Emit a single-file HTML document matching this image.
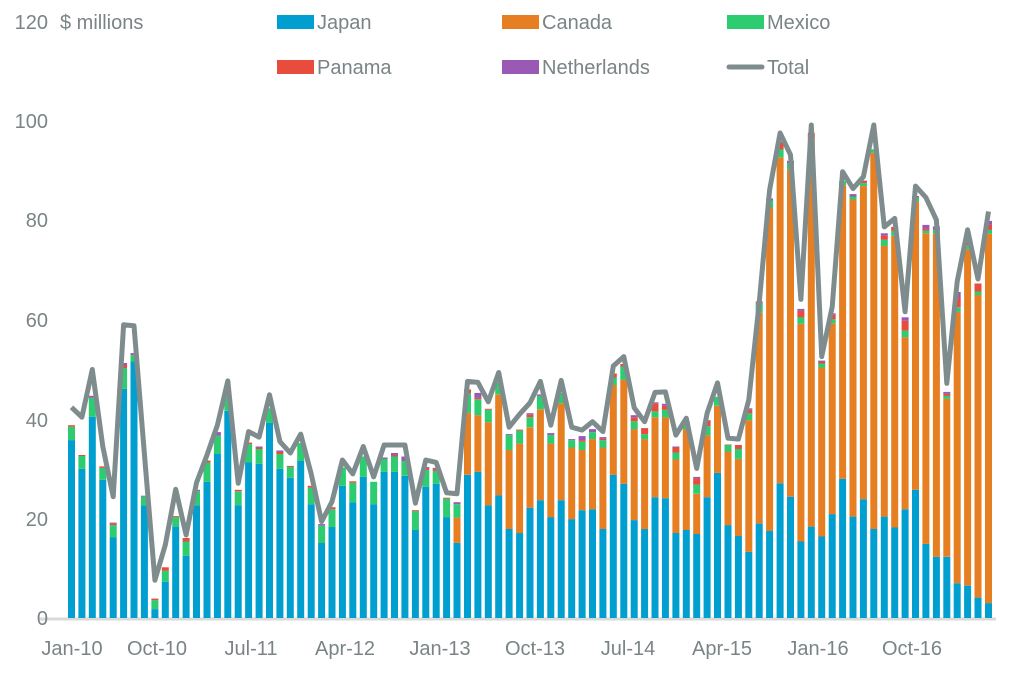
<!DOCTYPE html>
<html><head><meta charset="utf-8"><style>
html,body{margin:0;padding:0;background:#fff;}
svg text{font-family:"Liberation Sans Narrow","Liberation Sans",sans-serif;fill:#7a8486;font-size:20px;}
</style></head><body>
<svg id="c" width="1015" height="670" xmlns="http://www.w3.org/2000/svg"></svg>
<script>
const D=[
[35.8,35.8,38.5,38.8,38.8,42.4],[30,30,32.6,32.8,32.8,40.4],[40.5,40.5,44.3,44.3,44.7,50],[27.8,27.8,30.2,30.5,30.5,34.5],
[16.2,16.2,18.7,19,19.2,24.4],[46.1,46.1,50.3,50.9,51.3,59],[51.6,51.6,52.9,52.9,53.3,58.8],[22.7,22.7,24.4,24.4,24.6,33],
[1.8,1.8,3.6,3.9,3.9,7.6],[7.3,7.3,9.5,10.2,10.2,14.7],[18.4,18.4,20.3,20.5,20.5,25.9],[12.5,12.5,15.4,16.1,16.1,16.7],
[22.7,22.7,25.5,25.5,25.8,27.2],[27.4,27.4,31.3,31.7,31.7,32.8],[33,33,36.7,36.7,37.4,38.8],[41.7,41.7,44.5,44.5,44.5,47.7],
[22.7,22.7,25.5,25.8,25.8,27.1],[31.3,31.3,35,35.3,35.3,37.5],[31,31,34,34.3,34.5,36.4],[39.3,39.3,42.2,42.2,42.2,44.9],
[30,30,33,33.4,33.7,35.5],[28.2,28.2,30.4,30.6,30.6,33.2],[31.6,31.6,35.2,35.2,35.2,37],[22.9,22.9,26.2,26.6,26.6,29],
[15.1,15.1,18.6,18.6,18.9,19.4],[18.3,18.3,21.9,22.3,22.3,23.4],[26.6,26.6,30.3,30.3,30.3,31.8],[23.3,23.3,27.2,27.5,27.5,29],
[28.4,28.4,32.5,32.5,32.5,34.5],[22.9,22.9,27.4,27.4,27.4,28.4],[29.4,29.4,32,32,32.3,34.8],[29.4,29.4,32.5,32.8,33.2,34.8],
[28.6,28.6,31.6,31.6,32.5,34.8],[17.7,17.7,21.5,21.7,21.7,23.1],[26.4,26.4,29.8,30.2,30.4,31.8],[27,27,29.6,30,30.2,31.3],
[20.3,20.3,24,24.2,24.2,25.2],[15.1,20.2,22.9,22.9,23.3,25],[28.8,41.3,45.2,46,46,47.6],[29.4,40.8,44,44.3,45.3,47.4],
[22.7,39.4,41.9,42.1,42.1,43.5],[24.7,45,47.3,47.3,47.3,49.4],[17.9,33.8,36.8,36.8,37,38.4],[17.1,35.1,37.7,37.9,37.9,41],
[22.2,38.4,40.4,40.9,41.2,43.3],[23.7,42,44.7,44.7,45,47.6],[20.3,35.1,36.8,36.8,37.2,38.8],[23.7,43.2,45.3,45.3,45.3,47.8],
[19.9,34.3,35.8,35.8,36,38.4],[21.7,33.8,35.5,35.8,36.6,37.8],[21.9,36,37.4,37.4,38,39.5],[17.9,34.3,35.8,36.1,36.4,37.5],
[28.8,46.9,48.4,49.2,49.2,50.7],[27,47.9,50.6,51.1,51.1,52.6],[19.7,38,39.6,40.4,40.8,42.3],[17.9,36,37,38.2,38.2,39.5],
[24.3,40.4,41.6,43.2,43.4,45.4],[24.1,40.4,41.9,42.7,43.1,45.5],[17.1,31.9,33.3,34.3,34.5,36.8],[17.7,38,39.5,39.5,39.5,40.2],
[16.9,25,26.8,28.1,28.4,30.1],[24.3,36.8,38.6,39.8,39.8,41.2],[29.2,42.7,44.5,44.5,44.5,47.3],[18.7,33.5,34.8,34.9,34.9,36.2],
[16.5,32,34,34.8,34.8,36],[13.3,39.8,41.2,41.9,42.2,43.9],[19,61.4,63.3,63.5,63.7,63.4],[17.5,82.6,84,84,84.4,86.1],
[27.1,92.7,94.3,95.8,95.8,97.6],[24.4,90.3,91.5,91.5,92,93.2],[15.4,59.2,60.5,61.8,62.2,64.1],[18.4,96.5,96.5,97.6,97.6,99.2],
[16.4,50.4,51.2,51.5,51.8,52.6],[20.9,59.3,60.1,61,61.3,62.6],[28,87.1,87.9,87.9,87.9,89.8],[20.4,84.2,84.8,84.8,85.3,86.4],
[23.9,86.9,87.5,88,88,88.8],[17.9,93.6,94.3,94.3,94.3,99.2],[20.4,74.9,76.1,76.9,77.4,78.7],[18.2,76.9,77.9,78.7,78.7,80.4],
[21.9,56.5,57.8,59.8,60.5,61.6],[25.8,83.8,84.6,84.6,84.9,86.9],[14.9,77.4,77.9,78.3,79.1,84.6],[12.3,77.3,78.1,78.1,78.8,80.1],
[12.3,44.1,44.7,45.1,45.5,47.2],[7,61.6,62.5,64.5,65.6,67.7],[6.5,74.2,75,75.7,75.7,78.1],[4.1,65,65.7,67.3,67.3,68.2],
[3,77.3,78.1,79.1,79.9,81.8]];
const C=['#009fcf','#e67e22','#2ecc71','#e74c3c','#9b59b6'];
const Y=v=>618-v*4.97, X=i=>71.5+i*10.42;
let s='';
s+='<line x1="38" y1="619" x2="996" y2="619" stroke="#d9d9d9" stroke-width="3"/>';
D.forEach((d,i)=>{let prev=0;for(let k=0;k<5;k++){const h=d[k]-prev;if(h>0.01){s+=`<rect x="${(X(i)-3.5).toFixed(1)}" y="${Y(d[k]).toFixed(1)}" width="7" height="${(h*4.97).toFixed(1)}" fill="${C[k]}"/>`;}prev=d[k];}});
s+='<polyline fill="none" stroke="#7f8c8d" stroke-width="5" stroke-linejoin="round" points="'+D.map((d,i)=>X(i).toFixed(1)+','+Y(d[5]).toFixed(1)).join(' ')+'"/>';
[[0,618],[20,519],[40,420],[60,320],[80,220],[100,121]].forEach(([v,y])=>{s+=`<text x="48" y="${y+7}" text-anchor="end">${v}</text>`;});
s+='<text x="48" y="29" text-anchor="end">120</text><text x="60" y="29">$ millions</text>';
[['Japan',277,22,C[0]],['Canada',502,22,C[1]],['Mexico',727,22,C[2]],['Panama',277,67,C[3]],['Netherlands',502,67,C[4]]].forEach(([t,x,y,c])=>{s+=`<rect x="${x}" y="${y-7}" width="37" height="14" fill="${c}"/><text x="${x+40}" y="${y+7}">${t}</text>`;});
s+='<line x1="729" y1="67" x2="762" y2="67" stroke="#7f8c8d" stroke-width="5" stroke-linecap="round"/><text x="767" y="74">Total</text>';
[['Jan-10',72],['Oct-10',157],['Jul-11',251],['Apr-12',345],['Jan-13',440],['Oct-13',535],['Jul-14',628],['Apr-15',722],['Jan-16',818],['Oct-16',912]].forEach(([t,x])=>{s+=`<text x="${x}" y="655" text-anchor="middle">${t}</text>`;});
document.getElementById('c').innerHTML=s;
</script>
</body></html>
